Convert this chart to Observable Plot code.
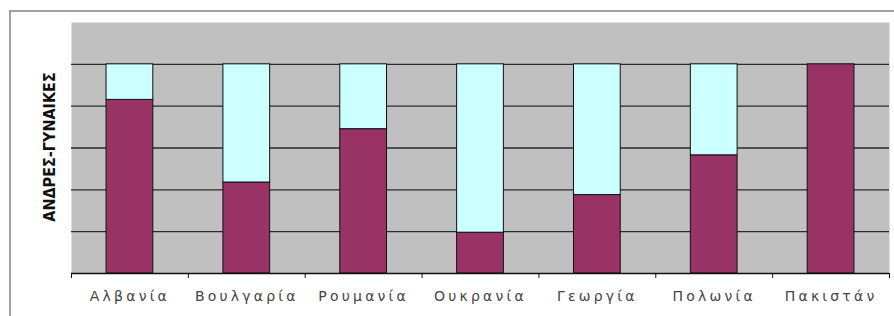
<!DOCTYPE html>
<html>
<head>
<meta charset="utf-8">
<script src="https://cdn.jsdelivr.net/npm/d3@7"></script>
<script src="https://cdn.jsdelivr.net/npm/@observablehq/plot@0.6"></script>
<style>
  html, body { margin: 0; padding: 0; background: #fff; }
  #wrap { position: relative; width: 894px; height: 316px; overflow: hidden; }
  #border { position: absolute; left: 9px; top: 10px; width: 900px; height: 320px;
            border-top: 2px solid #a0a0a0; border-left: 2px solid #a0a0a0; }
  #chart { position: absolute; left: 0; top: 0; }
  .xlab text { font-family: "DejaVu Sans", sans-serif; font-size: 14px; letter-spacing: 3.2px; fill: #444; }
  .ylab text { font-family: "Liberation Sans Narrow", "DejaVu Sans Condensed", sans-serif; font-weight: bold; font-size: 16px; fill: #111; }
</style>
</head>
<body>
<div id="wrap"><div id="border"></div><div id="chart"></div></div>
<script>
const countries = ["Αλβανία", "Βουλγαρία", "Ρουμανία", "Ουκρανία", "Γεωργία", "Πολωνία", "Πακιστάν"];
const men = [83, 43.5, 69, 19.5, 37.5, 56.5, 100];
const women = men.map(v => 100 - v); // complement of the 100% stacked bar
const gridValues = [20, 40, 60, 80, 100];
const yLabel = "ΑΝΔΡΕΣ-ΓΥΝΑΙΚΕΣ";

const data = countries.map((c, i) => ({country: c, i, men: men[i], total: men[i] + women[i]}));

const chart = Plot.plot({
  width: 894,
  height: 316,
  marginLeft: 71,
  marginRight: 5,
  marginTop: 22,
  marginBottom: 43,
  x: {type: "linear", domain: [0, countries.length], axis: null},
  y: {domain: [0, 120], axis: null},
  style: {background: "transparent", overflow: "visible"},
  marks: [
    Plot.frame({fill: "#c0c0c0", stroke: null}),
    Plot.ruleY(gridValues, {stroke: "#2a2a2a", strokeWidth: 1.3}),
    Plot.rectY(data, {x1: d => d.i + 0.3, x2: d => d.i + 0.7, y1: 0, y2: "men", fill: "#993366", stroke: "#111", strokeWidth: 1}),
    Plot.rectY(data.filter(d => d.total - d.men > 0), {x1: d => d.i + 0.3, x2: d => d.i + 0.7, y1: "men", y2: "total", fill: "#ccffff", stroke: "#111", strokeWidth: 1}),
    Plot.ruleY([0], {stroke: "#111", strokeWidth: 1.3}),
    Plot.axisX({ticks: d3.range(countries.length + 1), tickFormat: () => "", tickSize: 5, stroke: "#111", label: null}),
    Plot.axisX({ticks: d3.range(countries.length).map(i => i + 0.5), tickFormat: d => countries[Math.floor(d)], tickSize: 0, tickPadding: 18, label: null, className: "xlab", fontSize: 14}),
    Plot.text([yLabel], {frameAnchor: "left", rotate: -90, dx: -22, dy: -1, textAnchor: "middle", text: d => d, className: "ylab"})
  ]
});
document.getElementById("chart").appendChild(chart);
</script>
</body>
</html>
